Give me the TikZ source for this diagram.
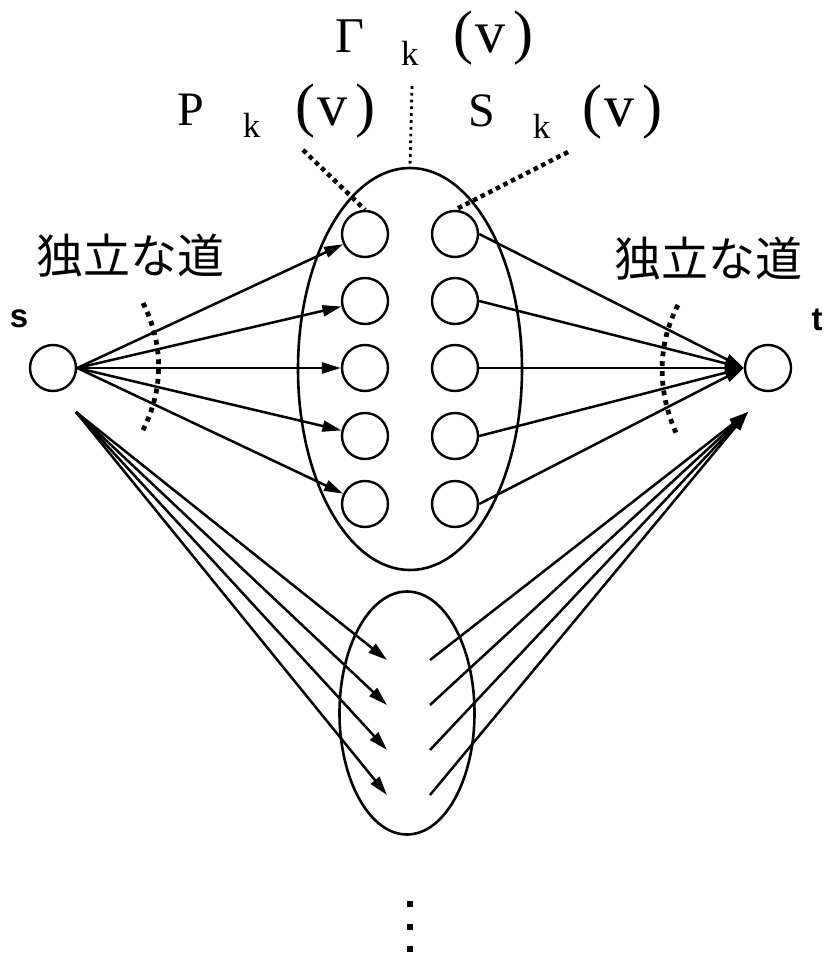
\documentclass[tikz,border=0pt]{standalone}
\usepackage{fontspec}
\setmainfont{Liberation Serif}
\newfontfamily\jpfont{Noto Sans CJK JP}
\newfontfamily\lsansfont{Liberation Sans}
\usetikzlibrary{arrows.meta,shapes.geometric}
\newcommand\subkk{\raisebox{-12pt}{\fontsize{35}{36}\selectfont k}}
\newcommand\parv{{\fontsize{60}{60}\selectfont(\hspace{2pt}v\hspace{8pt})}}
\tikzset{
  vtx/.style={circle,draw,line width=2.4pt,minimum size=46pt,inner sep=0pt},
  ell/.style={ellipse,draw,line width=2.6pt,inner sep=0pt},
  arr/.style={line width=2.5pt,-{Triangle[length=19pt,width=11pt]}},
  leader/.style={line width=4.5pt,dash pattern=on 4.5pt off 4pt},
  thinlead/.style={line width=2.8pt,dash pattern=on 2.8pt off 4pt},
  cutarc/.style={line width=4.8pt,dash pattern=on 4.8pt off 5pt},
  jp/.style={font=\jpfont\fontsize{47}{50}\selectfont,inner sep=0pt},
  stlab/.style={font=\lsansfont\bfseries\fontsize{33}{36}\selectfont,inner sep=0pt,anchor=base},
  lab/.style={font=\fontsize{48}{50}\selectfont,inner sep=0pt,anchor=base west},
}
\begin{document}
\begin{tikzpicture}[x=1pt,y=-1pt]
\useasboundingbox (0,0) rectangle (825,955);
% ellipses
\node[ell,minimum width=224pt,minimum height=402pt] (big) at (410,369) {};
\node[ell,minimum width=135pt,minimum height=243pt] (low) at (407,713) {};
% s and t
\node[vtx] (s) at (53,368) {};
\node[vtx] (t) at (768,368) {};
\node[stlab] (slab) at (19,327) {s};
\node[stlab] (tlab) at (817,330) {t};
% inner circles
\foreach \i/\y in {1/234,2/301,3/368,4/436,5/504}{
  \node[vtx] (p\i) at (365,\y) {};
  \node[vtx] (q\i) at (455,\y) {};
}
% arrows s -> p, q -> t
\foreach \i in {1,...,5}{
  \draw[arr] (s.east) -- (p\i);
  \draw[arr] (q\i.east) -- (t.west);
}
% lower bundles
\coordinate (lsrc) at (76,412);
\coordinate (rtip) at (748,412);
\foreach \i/\y in {1/660,2/705,3/750,4/795}{
  \coordinate (lt\i) at (387,\y);
  \coordinate (rs\i) at (430,\y);
  \draw[arr] (lsrc) -- (lt\i);
  \draw[arr] (rs\i) -- (rtip);
}
% cut arcs
\coordinate (la1) at (143,303); \coordinate (la2) at (142,432);
\coordinate (ra1) at (678,305); \coordinate (ra2) at (677,435);
\draw[cutarc] (la1) .. controls (164,345) and (164,390) .. (la2);
\draw[cutarc] (ra1) .. controls (657,345) and (657,392) .. (ra2);
% leaders
\coordinate (pl) at (303,150);
\coordinate (sl) at (568,152);
\coordinate (gl) at (412,86);
\draw[leader] (pl) -- (p1.north);
\draw[leader] (sl) -- (q1.north);
\draw[thinlead] (gl) -- (big.north);
% labels
\node[lab] (glab) at (335,53) {\fontsize{50}{50}\selectfont\symbol{"0393}\hspace{37pt}\raisebox{-13pt}{\fontsize{35}{36}\selectfont k}\hspace{34.5pt}\parv};
\node[lab] (plab) at (177,125) {P\hspace{39pt}\subkk\hspace{35pt}\parv};
\node[lab] (sqlab) at (468,127) {S\hspace{38pt}\subkk\hspace{32.5pt}\parv};
\node[jp] (ind1) at (130,256) {独立な道};
\node[jp] (ind2) at (708,259) {独立な道};
% vertical dots
\foreach \y in {904,927,949}{
  \fill (407,\y-3) rectangle (413,\y+3);
}
\end{tikzpicture}
\end{document}
